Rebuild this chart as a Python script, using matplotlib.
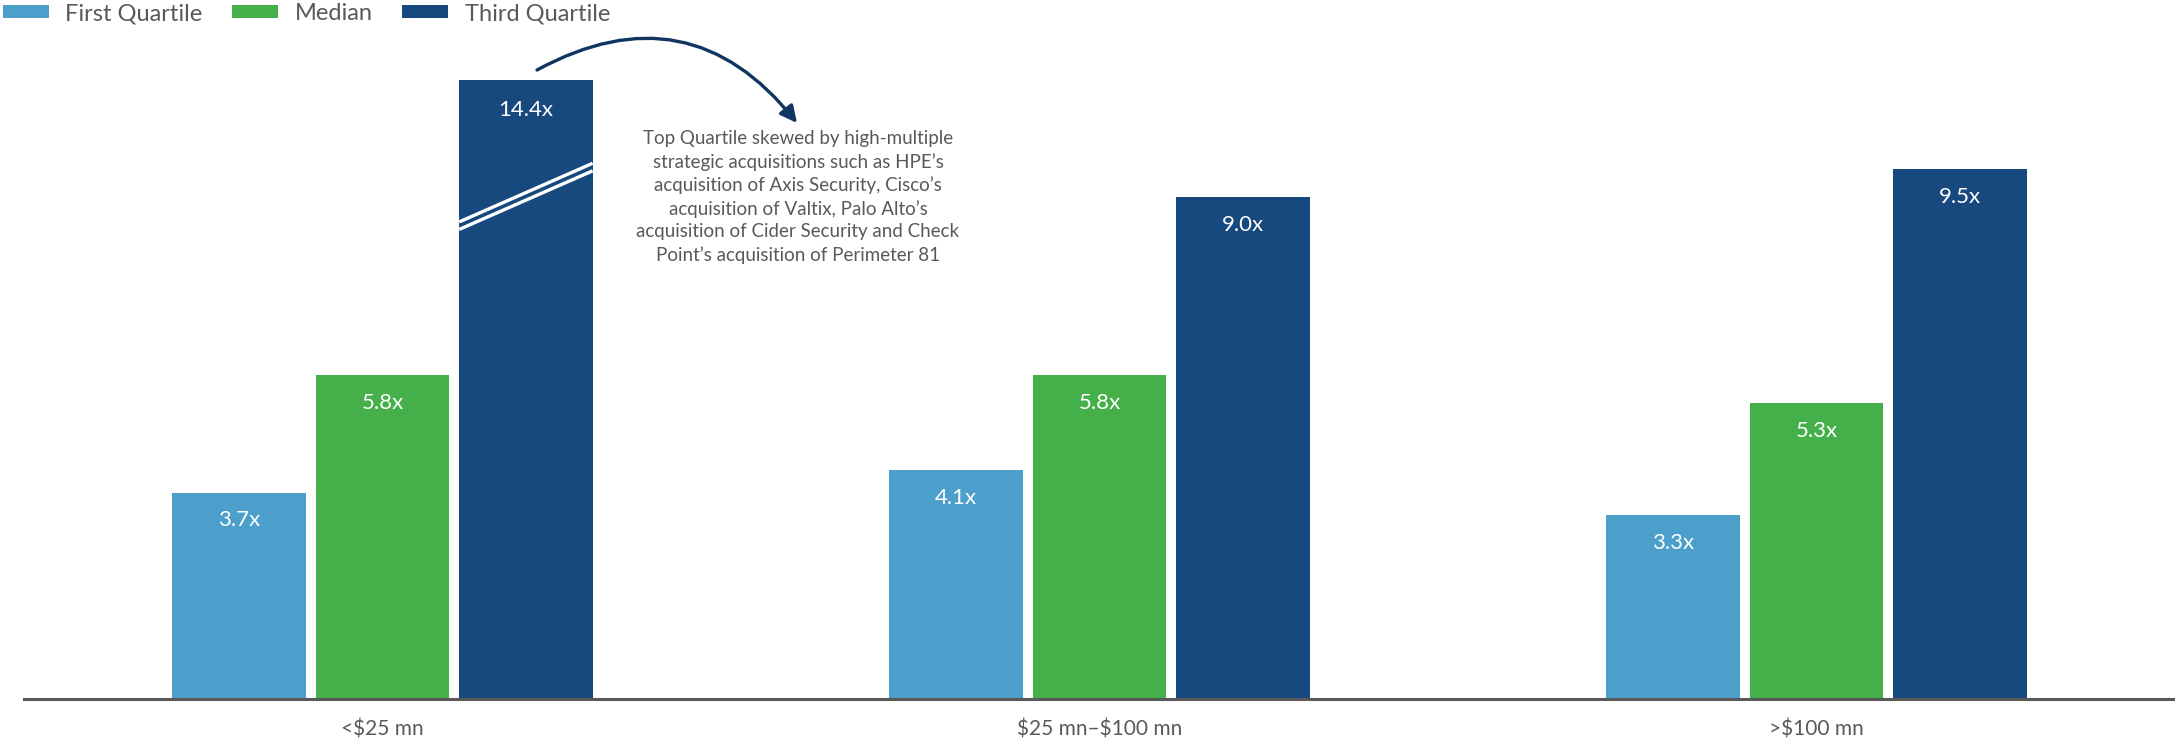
import numpy as np
import matplotlib
matplotlib.use("Agg")
import matplotlib.pyplot as plt
from matplotlib.patches import Patch

# ---- data ----
categories = ["<$25 mn", "$25 mn–$100 mn", ">$100 mn"]
series_names = ["First Quartile", "Median", "Third Quartile"]
first_quartile = [3.7, 4.1, 3.3]
median = [5.8, 5.8, 5.3]
third_quartile = [14.4, 9.0, 9.5]
axis_cap = 11.1  # broken-axis display cap for the outlier bar
note = ("Top Quartile skewed by high-multiple\n"
        "strategic acquisitions such as HPE’s\n"
        "acquisition of Axis Security, Cisco’s\n"
        "acquisition of Valtix, Palo Alto’s\n"
        "acquisition of Cider Security and Check\n"
        "Point’s acquisition of Perimeter 81")

colors = ["#4B9FCA", "#45B04A", "#17487E"]
text_gray = "#595959"

plt.rcParams["font.family"] = ["Lato", "DejaVu Sans"]

W, H = 2175, 741
fig = plt.figure(figsize=(W / 100, H / 100), dpi=100)
ax = fig.add_axes([24 / W, 42 / H, 2151 / W, 659 / H])

x = np.arange(len(categories))
width = 0.186
offsets = [-0.2, 0.0, 0.2]
all_series = [first_quartile, median, third_quartile]

for s, (vals, off, col) in enumerate(zip(all_series, offsets, colors)):
    vals = np.asarray(vals, dtype=float)
    shown = np.minimum(vals, axis_cap)
    ax.bar(x + off, shown, width, color=col, edgecolor="none", zorder=2)
    for xi, v, h in zip(x + off, vals, shown):
        dy_lab = -22 if v > axis_cap else -20
        ax.annotate(f"{v:.1f}x", (xi, h), xytext=(0, dy_lab), textcoords="offset points",
                    ha="center", va="center", color="white", fontsize=16, zorder=4)
    # broken-bar marks
    for xi, v, h in zip(x + off, vals, shown):
        if v > axis_cap:
            xl, xr = xi - width / 2, xi + width / 2
            for dy in (0.0, -0.135):
                ax.plot([xl, xr], [8.55 + dy, 9.6 + dy], color="white", lw=2.4,
                        solid_capstyle="butt", zorder=3)

ax.set_xlim(-0.5, 2.5)
ax.set_ylim(0, 11.81)
ax.set_xticks(x)
ax.set_xticklabels([c.replace("$", r"\$") for c in categories], fontsize=15, color=text_gray)
ax.tick_params(axis="x", length=0, pad=15)
ax.set_yticks([])
for sp in ["top", "right", "left"]:
    ax.spines[sp].set_visible(False)
ax.spines["bottom"].set_color(text_gray)
ax.spines["bottom"].set_linewidth(2.2)

# legend
handles = [Patch(facecolor=c, edgecolor="none") for c in colors]
fig.legend(handles, series_names, loc="upper left", bbox_to_anchor=(3 / W, 1 - 3 / H),
           ncol=3, frameon=False, fontsize=17, labelcolor=text_gray,
           handlelength=1.95, handleheight=0.47, handletextpad=0.68,
           columnspacing=1.27, borderpad=0, borderaxespad=0)

# annotation note
fig.text(798 / W, 1 - 197 / H, note, ha="center", va="center", fontsize=13.5,
         color=text_gray, linespacing=1.38)

# curved arrow
ax.annotate("", xy=(797 / W, 1 - 123 / H), xycoords="figure fraction",
            xytext=(537 / W, 1 - 70 / H), textcoords="figure fraction",
            arrowprops=dict(arrowstyle="-|>,head_length=1.0,head_width=0.5",
                            connectionstyle="arc3,rad=-0.42", color="#0F3560",
                            lw=2.4, shrinkA=0, shrinkB=0),
            annotation_clip=False)

fig.savefig("out.png", dpi=100)
